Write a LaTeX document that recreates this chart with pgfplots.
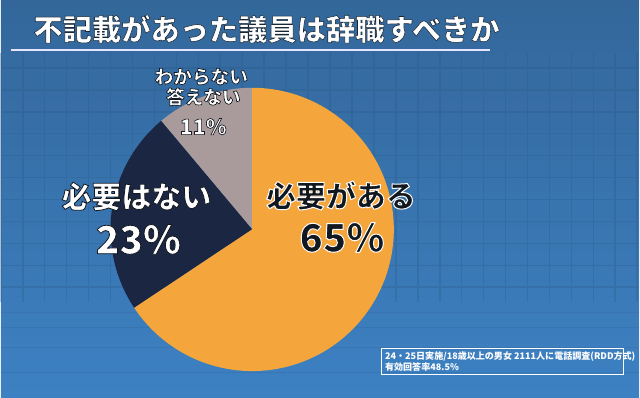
\documentclass[border=0pt]{standalone}
\usepackage{pgfplots}
\pgfplotsset{compat=1.18}
\usepackage{pgfplotstable}
\usepackage{fontspec}
\setmainfont{Noto Sans CJK JP}
\definecolor{porange}{HTML}{F4A63C}
\definecolor{pnavy}{HTML}{1B2742}
\definecolor{pgray}{HTML}{A99B9C}
\definecolor{bgtop}{HTML}{33679A}
\definecolor{bgbot}{HTML}{3D81C3}
\definecolor{bgline}{HTML}{2A5A88}
\definecolor{txtdark}{HTML}{111820}
% outlined text: #1 fill colour, #2 stroke rgb, #3 stroke width, #4 text
\newcommand\outl[4]{{\color{#1}\special{pdf:literal direct #2 RG #3 w 1 j 2 Tr}#4\special{pdf:literal direct 0 Tr 0.4 w}}}

\pgfplotstableread{
name value
yes 65
no 23
dk 11
}\piedata

\begin{document}
\begin{tikzpicture}
\pgfplotstablegetelem{0}{value}\of\piedata \let\vA\pgfplotsretval
\pgfplotstablegetelem{1}{value}\of\piedata \let\vB\pgfplotsretval
\pgfplotstablegetelem{2}{value}\of\piedata \let\vC\pgfplotsretval
\pgfmathsetmacro\tot{\vA+\vB+\vC}
\pgfmathsetmacro\aG{90+360*\vC/\tot}
\pgfmathsetmacro\aD{\aG+360*\vB/\tot}
\begin{axis}[at={(0,0)}, anchor=south west, scale only axis,
  width=480pt, height=298.5pt, xmin=0, xmax=640, ymin=0, ymax=398,
  hide axis, clip=false]
% background
\fill[top color=bgtop, bottom color=bgbot] (axis cs:0,0) rectangle (axis cs:640,398);
\draw[bgline, opacity=0.3, line width=1.2pt, step=16.5pt] (axis cs:0,95) grid (axis cs:640,345);
\draw[bgline, opacity=0.2, line width=0.8pt] (axis cs:0,85) -- (axis cs:640,85);
\draw[bgline, opacity=0.2, line width=0.8pt] (axis cs:0,70) -- (axis cs:640,70);
\draw[bgline, opacity=0.2, line width=0.8pt] (axis cs:0,50) -- (axis cs:640,50);
\draw[bgline, opacity=0.2, line width=0.8pt] (axis cs:0,25) -- (axis cs:640,25);
% pie slices
\addplot[fill=pgray, draw=none, domain=90:\aG, samples=50, variable=\t]
  ({252+142*cos(\t)},{168+142*sin(\t)}) -- (axis cs:252,168) -- cycle;
\addplot[fill=pnavy, draw=none, domain=\aG:\aD, samples=80, variable=\t]
  ({252+142*cos(\t)},{168+142*sin(\t)}) -- (axis cs:252,168) -- cycle;
\addplot[fill=porange, draw=none, domain=\aD:450, samples=200, variable=\t]
  ({252+142*cos(\t)},{168+142*sin(\t)}) -- (axis cs:252,168) -- cycle;
% title
\node[anchor=west] at (axis cs:28,369)
  {\bfseries\fontsize{22pt}{26pt}\selectfont\outl{white}{0.1 0.15 0.2}{0.4}{不記載があった議員は辞職すべきか}};
\draw[white!90!blue, line width=1.6pt] (axis cs:10,348) -- (axis cs:490,348);
% labels
\node at (axis cs:341,202) {\bfseries\fontsize{22.5pt}{26pt}\selectfont\outl{txtdark}{1 1 1}{0.75}{必要がある}};
\node at (axis cs:342,160) {\bfseries\fontsize{29pt}{32pt}\selectfont\outl{txtdark}{1 1 1}{0.75}{65\%}};
\node at (axis cs:136,201) {\bfseries\fontsize{22.5pt}{26pt}\selectfont\outl{white}{0.07 0.09 0.12}{0.6}{必要はない}};
\node at (axis cs:138,158) {\bfseries\fontsize{29pt}{32pt}\selectfont\outl{white}{0.07 0.09 0.12}{0.6}{23\%}};
\node at (axis cs:201,321) {\bfseries\fontsize{14pt}{16pt}\selectfont\outl{white}{0.07 0.09 0.12}{0.5}{わからない}};
\node at (axis cs:203,301) {\bfseries\fontsize{14pt}{16pt}\selectfont\outl{white}{0.07 0.09 0.12}{0.5}{答えない}};
\node at (axis cs:203,271) {\bfseries\fontsize{16pt}{18pt}\selectfont\outl{white}{0.07 0.09 0.12}{0.5}{11\%}};
% note box
\draw[white, line width=0.7pt] (axis cs:382,49) rectangle (axis cs:624,23);
\node[anchor=west, text=white, inner sep=0pt] at (axis cs:385,41)
  {\bfseries\fontsize{6.8pt}{7pt}\selectfont 24・25日実施/18歳以上の男女 2111人に電話調査(RDD方式)};
\node[anchor=west, text=white, inner sep=0pt] at (axis cs:385,30.5)
  {\bfseries\fontsize{6.8pt}{7pt}\selectfont 有効回答率48.5\%};
\end{axis}
\end{tikzpicture}
\end{document}
